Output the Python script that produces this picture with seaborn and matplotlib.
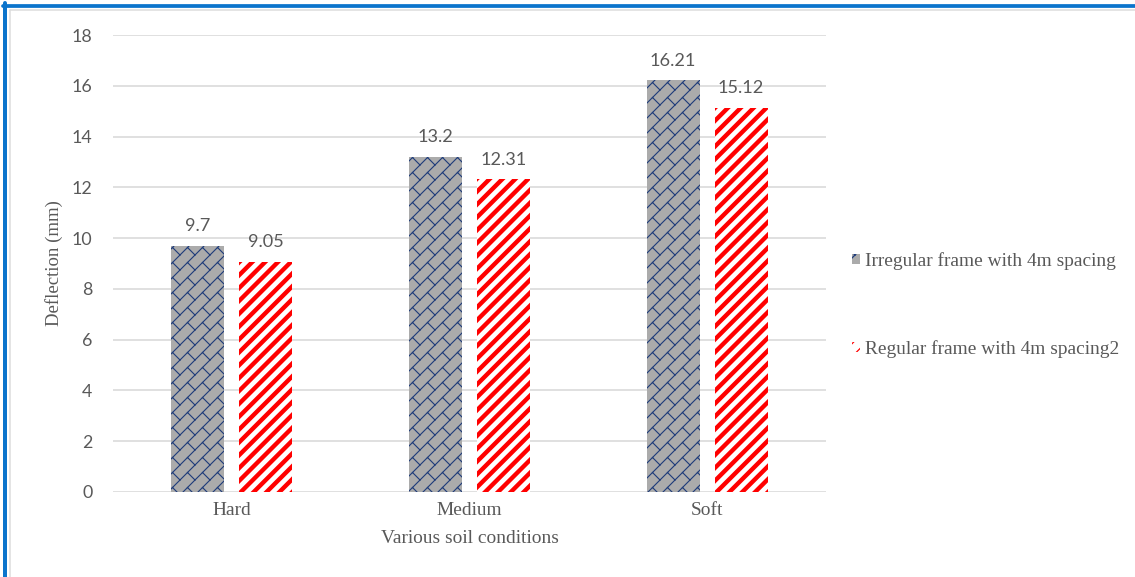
import numpy as np
import pandas as pd
import matplotlib
matplotlib.use("Agg")
import matplotlib.pyplot as plt
import matplotlib.hatch as mhatch
from matplotlib.path import Path
from matplotlib.lines import Line2D
import seaborn as sns

# ---- data -------------------------------------------------------------
soil = ["Hard", "Medium", "Soft"]
series = ["Irregular frame with 4m spacing", "Regular frame with 4m spacing2"]
irregular = [9.7, 13.2, 16.21]
regular = [9.05, 12.31, 15.12]
y_ticks = [0, 2, 4, 6, 8, 10, 12, 14, 16, 18]

df = pd.DataFrame({
    "soil": soil * 2,
    "frame": [series[0]] * len(soil) + [series[1]] * len(soil),
    "deflection": irregular + regular,
})


# ---- custom hatch patterns ---------------------------------------------
def _segments_to_path(segs, vertices, codes):
    for i, (a, b) in enumerate(segs):
        vertices[2 * i] = a
        vertices[2 * i + 1] = b
        codes[2 * i] = Path.MOVETO
        codes[2 * i + 1] = Path.LINETO


class DiagonalBrick(mhatch.HatchPatternBase):
    """Diagonal brick bond, used for the '*' hatch symbol."""
    courses = 6

    def __init__(self, hatch, density):
        segs = []
        if "*" in hatch:
            n = self.courses
            m = n // 2
            # long courses along the rising diagonal
            for k in range(-n, n + 1):
                c = k / n
                segs.append(((-0.5, c - 0.5), (1.5, c + 1.5)))
            # short joints, staggered between neighbouring courses
            for k in range(-n - 1, n + 1):
                c0, c1 = k / n, (k + 1) / n
                off = 0.5 * (k % 2)
                for j in range(-m - 1, 3 * m + 2):
                    s = (j + off) / m
                    a = ((s - c0) / 2, (s + c0) / 2)
                    b = ((s - c1) / 2, (s + c1) / 2)
                    if all(-0.3 <= v <= 1.3 for v in (*a, *b)):
                        segs.append((a, b))
        self.segs = segs
        self.num_vertices = 2 * len(segs)

    def set_vertices_and_codes(self, vertices, codes):
        _segments_to_path(self.segs, vertices, codes)


class WideStripes(mhatch.HatchPatternBase):
    """Rising diagonal stripes, used for the 'o' hatch symbol."""
    lines = 7

    def __init__(self, hatch, density):
        segs = []
        if "o" in hatch:
            n = self.lines
            for k in range(-n, n + 1):
                c = k / n
                segs.append(((-0.5, c - 0.5), (1.5, c + 1.5)))
        self.segs = segs
        self.num_vertices = 2 * len(segs)

    def set_vertices_and_codes(self, vertices, codes):
        _segments_to_path(self.segs, vertices, codes)


mhatch._hatch_types = [DiagonalBrick, WideStripes] + [
    t for t in mhatch._hatch_types
    if t not in (mhatch.Stars, mhatch.SmallCircles)
]

# ---- styling --------------------------------------------------------------
DPI = 90
W, H = 1135, 577
sns.set_style("white")
plt.rcParams["font.family"] = ["Liberation Serif", "DejaVu Serif"]
NUM_FONT = ["Lato", "DejaVu Sans"]
TEXT_GREY = "#595959"
GRID = "#d9d9d9"
SERIF_SIZE = 15.5

fig = plt.figure(figsize=(W / DPI, H / DPI), dpi=DPI)
fig.patch.set_facecolor("white")
ax = fig.add_axes([113 / W, 1 - 492 / H, 713 / W, 457 / H])

sns.barplot(
    data=df, x="soil", y="deflection", hue="frame",
    order=soil, hue_order=series,
    width=0.572, gap=0.22, saturation=1,
    palette=["#ababab", "#ffffff"], linewidth=0,
    errorbar=None, legend=False, ax=ax,
)

styles = [
    dict(face="#ababab", edge="#1f3c7a", hatch="*", hlw=0.9),
    dict(face="#ffffff", edge="#ff0000", hatch="o", hlw=3.5),
]
for cont, st in zip(ax.containers, styles):
    for p in cont.patches:
        p.set_facecolor(st["face"])
        p.set_edgecolor(st["edge"])
        p.set_linewidth(0)
        p.set_hatch(st["hatch"])
        if hasattr(p, "set_hatch_linewidth"):
            p.set_hatch_linewidth(st["hlw"])
    ax.bar_label(cont, fmt="{:g}", padding=9.5, fontsize=14.5,
                 color=TEXT_GREY, family=NUM_FONT)

# axes
ax.set_ylim(0, 18)
ax.set_xlim(-0.5, 2.5)
ax.set_yticks(y_ticks)
ax.yaxis.grid(True, color=GRID, linewidth=1.3)
ax.set_axisbelow(True)
for sp in ax.spines.values():
    sp.set_visible(False)
ax.tick_params(axis="y", length=0, pad=16.5, labelsize=14.2,
               labelcolor=TEXT_GREY)
for t in ax.get_yticklabels():
    t.set_family(NUM_FONT)
ax.tick_params(axis="x", length=0, pad=8.0, labelsize=SERIF_SIZE,
               labelcolor=TEXT_GREY)

ax.set_xlabel("Various soil conditions", fontsize=SERIF_SIZE, color=TEXT_GREY)
ax.set_ylabel("Deflection (mm)", fontsize=15, color=TEXT_GREY)
ax.xaxis.set_label_coords(0.5, -0.083)
ax.yaxis.set_label_coords(-0.070, 0.5)

# legend
handles = [c.patches[0] for c in ax.containers]
leg = ax.legend(
    handles, series, loc="center left",
    bbox_to_anchor=(852 / W, 1 - 305 / H), bbox_transform=fig.transFigure,
    frameon=False, fontsize=SERIF_SIZE, labelcolor=TEXT_GREY,
    handlelength=0.42, handleheight=0.42, handletextpad=0.26,
    labelspacing=3.6, borderpad=0, borderaxespad=0,
)

# outer frame: blue rule on top and left with a thin grey inner rule
fig.add_artist(Line2D([5 / W, 5 / W], [0, 1 - 3 / H], color="#0b74cc",
                      linewidth=3.2, transform=fig.transFigure))
fig.add_artist(Line2D([3 / W, 1], [1 - 5.5 / H, 1 - 5.5 / H],
                      color="#0b74cc", linewidth=3.0,
                      transform=fig.transFigure))
fig.add_artist(Line2D([9.5 / W, 9.5 / W], [0, 1 - 9.5 / H], color="#dcdcdc",
                      linewidth=1.2, transform=fig.transFigure))
fig.add_artist(Line2D([9.5 / W, 1], [1 - 9.5 / H, 1 - 9.5 / H],
                      color="#dcdcdc", linewidth=1.2,
                      transform=fig.transFigure))

fig.savefig("out.png", dpi=DPI, facecolor="white")
